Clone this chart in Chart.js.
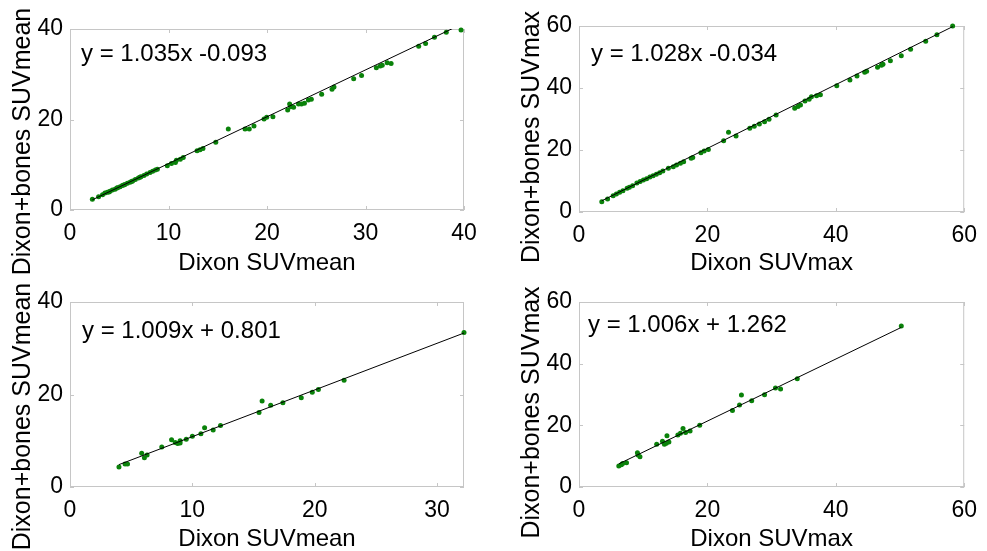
<!DOCTYPE html>
<html>
<head>
<meta charset="utf-8">
<script src="https://cdn.jsdelivr.net/npm/chart.js@4.4.1/dist/chart.umd.min.js"></script>
<style>
  html, body { margin: 0; padding: 0; background: #fff; width: 987px; height: 551px; overflow: hidden; }
  canvas { position: absolute; }
</style>
</head>
<body>
<canvas id="c1" width="490" height="285" style="left:0px;top:0px"></canvas>
<canvas id="c2" width="487" height="285" style="left:500px;top:0px"></canvas>
<canvas id="c3" width="490" height="310" style="left:0px;top:250px"></canvas>
<canvas id="c4" width="487" height="310" style="left:500px;top:250px"></canvas>
<script>
// panel 1 : SUVmean, first group
const dixonMean = [2.27, 2.9, 3.3, 3.55, 3.79, 3.95, 4.06, 4.3, 4.57, 4.75, 4.84, 5.08, 5.31, 5.45, 5.58, 5.82, 6.09, 6.25, 6.36, 6.63, 6.94, 7.1, 7.2, 7.5, 7.78, 8.12, 8.39, 8.66, 8.87,
  9.88, 10.3, 10.7, 10.8, 11.2, 11.5, 12.9, 13.2, 13.5, 14.8, 16.07, 17.77, 18.2, 18.68, 19.7, 19.97, 20.6, 22.1, 22.3, 22.4, 22.7, 23.2, 23.5, 23.8, 24.2, 24.5,
  25.55, 26.6, 26.8, 28.8, 29.6, 31.1, 31.5, 31.7, 32.2, 32.6, 35.4, 36.1, 37.0, 38.2, 39.7];
const bonesMean = [2.36, 2.95, 3.35, 3.75, 3.95, 4.0, 4.15, 4.4, 4.6, 4.85, 4.9, 5.15, 5.4, 5.5, 5.65, 5.9, 6.15, 6.3, 6.4, 6.75, 7.05, 7.25, 7.35, 7.65, 7.95, 8.3, 8.55, 8.85, 9.0,
  9.8, 10.3, 10.5, 11.0, 11.2, 11.6, 13.1, 13.3, 13.6, 15.0, 17.9, 17.9, 17.9, 18.56, 20.1, 20.5, 20.6, 22.1, 23.4, 22.8, 22.7, 23.4, 23.4, 23.6, 24.3, 24.5,
  25.6, 26.7, 27.2, 29.0, 29.7, 31.45, 31.8, 32.0, 32.55, 32.4, 36.2, 36.8, 38.2, 39.3, 39.8];

// panel 2 : SUVmax, first group
const dixonMax = [3.55, 4.45, 5.32, 5.82, 6.33, 6.84, 7.49, 7.85, 8.35, 9.01, 9.52, 10.03, 10.53, 11.04, 11.54, 12.05, 12.56, 13.06, 13.92, 14.68,
  15.19, 15.8, 16.3, 17.47, 17.72, 18.99, 19.49, 20.15, 22.53, 23.29, 24.46, 26.6, 27.3, 28.1, 28.9, 29.6, 30.7, 33.6, 34.1, 34.5,
  35.2, 35.85, 36.2, 37.0, 37.6, 40.15, 42.2, 43.3, 44.5, 44.8, 46.5, 47.1, 47.35, 48.5, 50.2, 51.65, 54.0, 55.75, 58.2];
const bonesMax = [3.3, 4.2, 5.27, 5.8, 6.35, 6.88, 7.63, 7.96, 8.5, 9.35, 9.8, 10.3, 10.75, 11.3, 11.7, 12.15, 12.7, 13.2, 14.1, 14.6,
  15.2, 15.7, 16.2, 17.3, 17.6, 19.1, 19.7, 20.2, 23.0, 25.7, 24.5, 27.0, 27.7, 28.4, 29.1, 29.9, 31.3, 33.5, 34.0, 34.5,
  35.8, 36.4, 37.2, 37.5, 37.8, 40.7, 42.6, 43.9, 45.1, 45.4, 46.7, 47.3, 47.7, 48.8, 50.4, 52.5, 55.1, 57.2, 60.0];

// panel 3 : SUVmean, second group
const dixonMean2 = [4.0, 4.5, 4.7, 5.86, 6.08, 6.3, 7.5, 8.3, 8.6, 8.8, 9.0, 9.0, 9.5, 10.0, 10.7, 11.0, 11.7, 12.3, 15.45, 15.7, 16.4, 17.4, 18.9, 19.8, 20.3, 22.4, 32.2];
const bonesMean2 = [4.3, 5.0, 5.0, 7.3, 6.3, 6.9, 8.65, 10.2, 9.6, 9.4, 9.5, 10.0, 10.3, 11.0, 11.5, 12.8, 12.3, 13.3, 16.1, 18.6, 17.7, 18.2, 19.3, 20.5, 21.1, 23.1, 33.4];

// panel 4 : SUVmax, second group
const dixonMax2 = [6.2, 6.6, 6.8, 7.4, 9.1, 9.2, 9.5, 12.1, 13.0, 13.3, 13.6, 14.0, 13.7, 15.4, 15.8, 16.2, 16.6, 17.3, 18.8, 23.9, 25.0, 25.3, 26.9, 28.9, 30.6, 31.4, 34.0, 50.2];
const bonesMax2 = [6.8, 7.2, 7.6, 7.9, 11.1, 10.4, 9.8, 13.9, 14.8, 13.9, 14.2, 14.6, 16.6, 16.9, 17.4, 19.0, 17.7, 18.2, 20.0, 24.8, 26.6, 29.8, 28.0, 29.9, 32.1, 31.8, 35.1, 52.2];

// fitted lines (as printed on each panel)
const fitSlope = [1.035, 1.028, 1.009, 1.006];
const fitIntercept = [-0.093, -0.034, 0.801, 1.262];
const fitXStart = [2.27, 3.55, 4.0, 6.2];
const fitXEnd = [39.9, 58.2, 32.2, 50.2];
const equations = ['y = 1.035x -0.093', 'y = 1.028x -0.034', 'y = 1.009x + 0.801', 'y = 1.006x + 1.262'];

// axes
const xTitles = ['Dixon SUVmean', 'Dixon SUVmax', 'Dixon SUVmean', 'Dixon SUVmax'];
const yTitles = ['Dixon+bones SUVmean', 'Dixon+bones SUVmax', 'Dixon+bones SUVmean', 'Dixon+bones SUVmax'];
const xMax = [40, 60, 32.2, 60];
const yMax = [40, 60, 40, 60];
const xTicks = [[0, 10, 20, 30, 40], [0, 20, 40, 60], [0, 10, 20, 30], [0, 20, 40, 60]];
const yTicks = [[0, 20, 40], [0, 20, 40, 60], [0, 20, 40], [0, 20, 40, 60]];

const FONT = '"Liberation Sans", Arial, sans-serif';
const GREY = '#c6c6c6';

const boxPlugin = {
    id: 'box',
    beforeDatasetsDraw(chart) {
        const { ctx, chartArea: a, scales } = chart;
        ctx.save();
        ctx.strokeStyle = GREY;
        ctx.lineWidth = 1;
        ctx.strokeRect(a.left + 0.5, a.top + 0.5, a.width - 1, a.height - 1);
        const tl = 4;
        ctx.beginPath();
        scales.x.ticks.forEach(t => {
            const px = Math.round(scales.x.getPixelForValue(t.value)) + 0.5;
            ctx.moveTo(px, a.bottom); ctx.lineTo(px, a.bottom - tl);
            ctx.moveTo(px, a.top); ctx.lineTo(px, a.top + tl);
        });
        scales.y.ticks.forEach(t => {
            const py = Math.round(scales.y.getPixelForValue(t.value)) + 0.5;
            ctx.moveTo(a.left, py); ctx.lineTo(a.left + tl, py);
            ctx.moveTo(a.right, py); ctx.lineTo(a.right - tl, py);
        });
        ctx.stroke();
        ctx.restore();
    },
    afterDraw(chart, args, opts) {
        const { ctx, chartArea: a } = chart;
        ctx.save();
        ctx.fillStyle = '#000';
        // equation
        ctx.font = '24px ' + FONT;
        ctx.textAlign = 'left';
        ctx.textBaseline = 'alphabetic';
        ctx.fillText(opts.equation, a.left + opts.eqDx, a.top + opts.eqDy);
        // rotated y title, sits a bit below the middle of the plot like the original
        ctx.font = '25px ' + FONT;
        ctx.translate(a.left - 47, (a.top + a.bottom) / 2 + opts.yTitleShift);
        ctx.rotate(-Math.PI / 2);
        ctx.textAlign = 'center';
        ctx.textBaseline = 'middle';
        ctx.fillText(opts.yTitle, 0, 0);
        ctx.restore();
    }
};

function makePanel(id, k, xs, ys, g) {
    const pts = xs.map((x, i) => ({ x: x, y: ys[i] }));
    const fit = [fitXStart[k], fitXEnd[k]].map(x => ({ x: x, y: fitSlope[k] * x + fitIntercept[k] }));

    return new Chart(document.getElementById(id), {
        type: 'scatter',
        data: {
            datasets: [
                { type: 'line', data: fit, borderColor: '#000', borderWidth: 1, pointRadius: 0, fill: false, order: 0, clip: 0 },
                { data: pts, backgroundColor: '#0a820a', borderColor: '#0a820a', pointRadius: 2.5, borderWidth: 0, order: 1, clip: false }
            ]
        },
        options: {
            responsive: false,
            animation: false,
            events: [],
            layout: { padding: { left: 0, top: g.top, right: g.right, bottom: 0 } },
            plugins: {
                legend: { display: false },
                tooltip: { enabled: false },
                box: { equation: equations[k], yTitle: yTitles[k], eqDx: g.eqDx, eqDy: g.eqDy, yTitleShift: g.shift }
            },
            scales: {
                x: {
                    type: 'linear', min: 0, max: xMax[k],
                    grid: { display: false, drawTicks: false },
                    border: { display: false },
                    ticks: { color: '#000', font: { family: FONT, size: 23 }, padding: 10, maxRotation: 0, autoSkip: false },
                    title: { display: true, text: xTitles[k], color: '#000', font: { family: FONT, size: 24 }, padding: { top: 0, bottom: g.titlePad } },
                    afterBuildTicks: ax => { ax.ticks = xTicks[k].map(v => ({ value: v })); },
                    afterFit: ax => { ax.height = g.xh; }
                },
                y: {
                    type: 'linear', min: 0, max: yMax[k],
                    grid: { display: false, drawTicks: false },
                    border: { display: false },
                    ticks: { color: '#000', font: { family: FONT, size: 23 }, padding: 7, autoSkip: false },
                    afterBuildTicks: ax => { ax.ticks = yTicks[k].map(v => ({ value: v })); },
                    afterFit: ax => { ax.width = g.yw; }
                }
            }
        },
        plugins: [boxPlugin]
    });
}

makePanel('c1', 0, dixonMean, bonesMean, { top: 29, right: 26, yw: 70, xh: 75, titlePad: 7, eqDx: 11, eqDy: 32, shift: 22 });
makePanel('c2', 1, dixonMax, bonesMax, { top: 26, right: 13, yw: 79, xh: 73, titlePad: 7, eqDx: 12, eqDy: 35, shift: 18 });
makePanel('c3', 2, dixonMean2, bonesMean2, { top: 52, right: 26, yw: 70, xh: 73, titlePad: 6, eqDx: 12, eqDy: 36, shift: 22 });
makePanel('c4', 3, dixonMax2, bonesMax2, { top: 52, right: 13, yw: 79, xh: 73, titlePad: 6, eqDx: 9, eqDy: 30, shift: 18 });
</script>
</body>
</html>
